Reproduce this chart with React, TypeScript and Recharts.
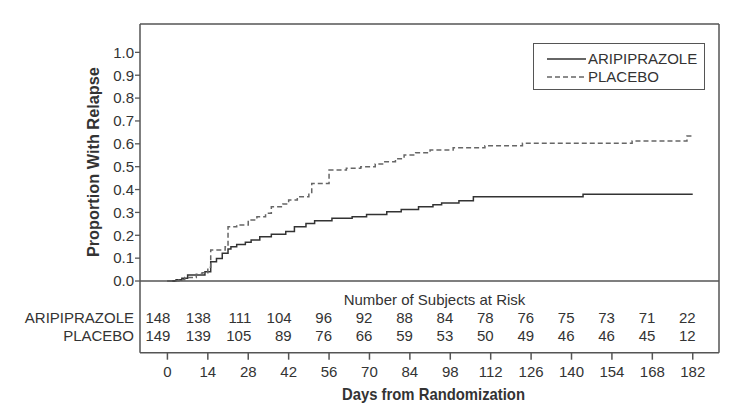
import { ComposedChart, Legend, Line, ReferenceLine, Scatter, XAxis, YAxis } from "recharts";

// Kaplan-Meier steps (day, cumulative proportion relapsed)
const aripDays = [0, 3, 5, 7, 13, 15, 17, 19, 21, 22, 24, 27, 29, 32, 36, 41, 44, 48, 51, 57, 64, 69, 76, 81, 87, 92, 95, 101, 106, 144, 182];
const aripRelapse = [0, 0.005, 0.012, 0.026, 0.04, 0.084, 0.099, 0.121, 0.14, 0.15, 0.16, 0.17, 0.179, 0.194, 0.204, 0.216, 0.237, 0.252, 0.264, 0.274, 0.281, 0.291, 0.303, 0.313, 0.325, 0.334, 0.341, 0.351, 0.369, 0.379, 0.379];

const placeboDays = [0, 4, 6, 10, 12, 14, 15, 20, 21, 24, 28, 31, 34, 36, 40, 42, 45, 49, 50, 56, 62, 67, 72, 75, 79, 82, 86, 91, 99, 110, 123, 161, 180, 182];
const placeboRelapse = [0, 0.005, 0.015, 0.03, 0.036, 0.06, 0.136, 0.15, 0.237, 0.245, 0.267, 0.281, 0.296, 0.325, 0.337, 0.354, 0.369, 0.383, 0.427, 0.485, 0.493, 0.5, 0.512, 0.522, 0.535, 0.551, 0.561, 0.573, 0.583, 0.592, 0.602, 0.612, 0.634, 0.638];

// subjects at risk table
const riskDays = [0, 14, 28, 42, 56, 70, 84, 98, 112, 126, 140, 154, 168, 182];
const aripAtRisk = [148, 138, 111, 104, 96, 92, 88, 84, 78, 76, 75, 73, 71, 22];
const placeboAtRisk = [149, 139, 105, 89, 76, 66, 59, 53, 50, 49, 46, 46, 45, 12];

const yTicks = [0, 0.1, 0.2, 0.3, 0.4, 0.5, 0.6, 0.7, 0.8, 0.9, 1.0];

const TEXT = "#333";
const AXIS = "#555";
const FONT = "'Liberation Sans', Arial, sans-serif";

// the y domain runs below 0 so the at-risk table sits inside the frame
const X_DOMAIN: [number, number] = [-9.5, 191.1];
const Y_DOMAIN: [number, number] = [-0.3135, 1.124];
const HEADER_Y = -0.083;
const ARIP_ROW_Y = -0.16;
const PLACEBO_ROW_Y = -0.2405;

const series = [
  { name: "ARIPIPRAZOLE", stroke: "#333", dash: undefined as string | undefined },
  { name: "PLACEBO", stroke: "#666", dash: "5 3" },
];

const rowLabels = [
  { y: ARIP_ROW_Y, name: "ARIPIPRAZOLE" },
  { y: PLACEBO_ROW_Y, name: "PLACEBO" },
];

const aripData = aripDays.map((day, i) => ({ day, value: aripRelapse[i] }));
const placeboData = placeboDays.map((day, i) => ({ day, value: placeboRelapse[i] }));
const aripRisk = riskDays.map((day, i) => ({ day, y: ARIP_ROW_Y, n: aripAtRisk[i] }));
const placeboRisk = riskDays.map((day, i) => ({ day, y: PLACEBO_ROW_Y, n: placeboAtRisk[i] }));

function YTick({ x, y, payload }: any) {
  const row = rowLabels.find((r) => r.y === payload.value);
  if (row) {
    return (
      <text x={x} y={y} dy="0.355em" textAnchor="end" fontSize={15} fill={TEXT} fontFamily={FONT}>
        {row.name}
      </text>
    );
  }
  return (
    <g>
      <line x1={x + 1} x2={x + 6} y1={y} y2={y} stroke={AXIS} strokeWidth={1.3} />
      <text x={x} y={y} dy="0.355em" textAnchor="end" fontSize={15} fill={TEXT} fontFamily={FONT}>
        {Number(payload.value).toFixed(1)}
      </text>
    </g>
  );
}

function CountMark(props: any) {
  const { cx, cy, payload } = props;
  return (
    <text x={cx + 3} y={cy} dy="0.355em" textAnchor="end" fontSize={15} fill={TEXT} fontFamily={FONT}>
      {payload.n}
    </text>
  );
}

function BoxLegend({ payload }: any) {
  const items = (payload || []).filter((e: any) => series.some((s) => s.name === e.value));
  return (
    <div
      style={{
        width: 172,
        height: 47,
        boxSizing: "border-box",
        border: `1.5px solid ${AXIS}`,
        background: "#fff",
        padding: "6px 0 0 13px",
      }}
    >
      {items.map((entry: any) => {
        const s = series.find((d) => d.name === entry.value);
        return (
          <div key={entry.value} style={{ display: "flex", alignItems: "center", height: 18 }}>
            <svg width={39} height={4}>
              <line x1={0} x2={39} y1={2} y2={2} stroke={s?.stroke} strokeWidth={1.5} strokeDasharray={s?.dash} />
            </svg>
            <span style={{ marginLeft: 2, fontSize: 15, lineHeight: "18px", color: TEXT, fontFamily: FONT }}>
              {entry.value}
            </span>
          </div>
        );
      })}
    </div>
  );
}

export default function App() {
  return (
    <div style={{ width: 730, height: 414, background: "#fff" }}>
      <style>{"body{margin:0}"}</style>
      <ComposedChart width={730} height={414} margin={{ top: 24, right: 11, bottom: 0, left: 0 }} style={{ fontFamily: FONT }}>
        <XAxis
          dataKey="day"
          type="number"
          domain={X_DOMAIN}
          ticks={riskDays}
          interval={0}
          height={61.3}
          stroke={AXIS}
          strokeWidth={1.5}
          tickSize={7}
          tickMargin={7}
          tick={{ fontSize: 15, fill: TEXT }}
          label={{
            content: ({ viewBox }: any) => (
              <text
                x={viewBox.x + viewBox.width / 2 + 4}
                y={viewBox.y + 41.3}
                dy="0.355em"
                textAnchor="middle"
                fontSize={17}
                fontWeight="bold"
                fill={TEXT}
                textLength={183}
                lengthAdjust="spacingAndGlyphs"
              >
                Days from Randomization
              </text>
            ),
          }}
        />
        <YAxis
          type="number"
          domain={Y_DOMAIN}
          ticks={[...yTicks, ARIP_ROW_Y, PLACEBO_ROW_Y]}
          interval={0}
          width={140}
          stroke={AXIS}
          strokeWidth={1.5}
          tickLine={false}
          tickSize={5}
          tickMargin={1}
          tick={<YTick />}
          label={{
            content: ({ viewBox }: any) => {
              const cy = viewBox.y + ((Y_DOMAIN[1] - 0.52) / (Y_DOMAIN[1] - Y_DOMAIN[0])) * viewBox.height;
              return (
                <text
                  x={93}
                  y={cy}
                  dy="0.355em"
                  transform={`rotate(-90, 93, ${cy})`}
                  textAnchor="middle"
                  fontSize={17}
                  fontWeight="bold"
                  fill={TEXT}
                  textLength={190}
                  lengthAdjust="spacingAndGlyphs"
                >
                  Proportion With Relapse
                </text>
              );
            },
          }}
        />
        {/* top and right edges of the frame */}
        <ReferenceLine y={Y_DOMAIN[1]} stroke={AXIS} strokeWidth={1.5} ifOverflow="visible" />
        <ReferenceLine x={X_DOMAIN[1]} stroke={AXIS} strokeWidth={1.5} ifOverflow="visible" />
        <ReferenceLine y={0} stroke={AXIS} strokeWidth={1.5} />
        <ReferenceLine
          y={HEADER_Y}
          stroke="none"
          label={{ value: "Number of Subjects at Risk", position: "center", dx: 5, fontSize: 15, fill: TEXT }}
        />
        <Line
          data={aripData}
          name="ARIPIPRAZOLE"
          dataKey="value"
          type="stepAfter"
          stroke={series[0].stroke}
          strokeWidth={1.5}
          dot={false}
          isAnimationActive={false}
        />
        <Line
          data={placeboData}
          name="PLACEBO"
          dataKey="value"
          type="stepAfter"
          stroke={series[1].stroke}
          strokeWidth={1.5}
          strokeDasharray={series[1].dash}
          dot={false}
          isAnimationActive={false}
        />
        <Scatter data={aripRisk} dataKey="y" shape={<CountMark />} legendType="none" isAnimationActive={false} />
        <Scatter data={placeboRisk} dataKey="y" shape={<CountMark />} legendType="none" isAnimationActive={false} />
        <Legend
          layout="vertical"
          align="center"
          verticalAlign="middle"
          content={<BoxLegend />}
          wrapperStyle={{ left: 533, top: 43, width: 172, height: 47 }}
        />
      </ComposedChart>
    </div>
  );
}
